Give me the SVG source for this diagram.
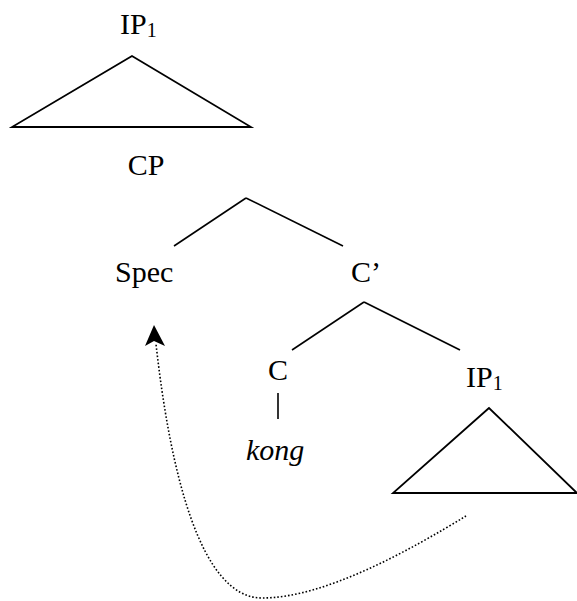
<svg xmlns="http://www.w3.org/2000/svg" width="577" height="601" viewBox="0 0 577 601">
<style>
text{font-family:"Liberation Serif","Times New Roman",serif;font-size:30px;fill:#000}
.sub{font-size:20px}
.edge{stroke:#000;stroke-width:1.6;fill:none}
.tri{stroke:#000;stroke-width:1.8;fill:none;stroke-linejoin:miter}
.move{stroke:#000;stroke-width:1.6;fill:none;stroke-dasharray:1.6 2}
</style>
<rect width="577" height="601" fill="#fff"/>
<g id="ip1-top">
<text x="120" y="34">IP<tspan class="sub" dy="3">1</tspan></text>
<polygon class="tri" points="132,56 12,127 251,127"/>
</g>
<g id="cp"><text x="146" y="175" text-anchor="middle">CP</text></g>
<g id="spec"><text x="115" y="282">Spec</text></g>
<g id="cbar"><text x="351" y="282">C’</text></g>
<g id="c"><text x="268" y="380">C</text></g>
<g id="kong"><text x="246" y="460" font-style="italic">kong</text></g>
<g id="ip1-low">
<text x="466" y="387">IP<tspan class="sub" dy="3">1</tspan></text>
<polygon class="tri" points="489,408 393,493 577,493"/>
</g>
<g id="connectors">
<line class="edge" x1="246" y1="198" x2="174" y2="246"/>
<line class="edge" x1="246" y1="198" x2="343" y2="246"/>
<line class="edge" x1="364" y1="302" x2="292" y2="350"/>
<line class="edge" x1="364" y1="302" x2="460" y2="350"/>
<line class="edge" x1="278" y1="393" x2="278" y2="419"/>
<path class="move" d="M466,516 C410,550 325,598 262,598 C200,598 170,470 156,344"/>
<path d="M154,325 L165,346 L154,341 L145,346 Z" fill="#000"/>
</g>
</svg>
